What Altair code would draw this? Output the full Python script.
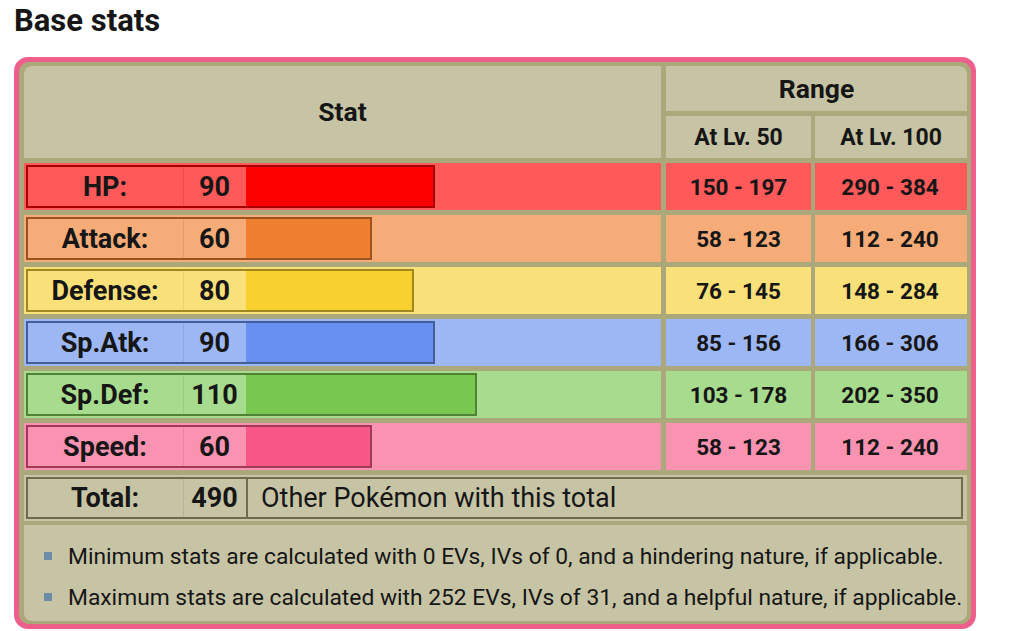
import altair as alt
import pandas as pd

# ---------------- data ----------------
title_text = "Base stats"
header_stat = "Stat"
header_range = "Range"
header_levels = ["At Lv. 50", "At Lv. 100"]
stat_names = ["HP:", "Attack:", "Defense:", "Sp.Atk:", "Sp.Def:", "Speed:"]
base_stats = [90, 60, 80, 90, 110, 60]
range_lv50 = ["150 - 197", "58 - 123", "76 - 145", "85 - 156", "103 - 178", "58 - 123"]
range_lv100 = ["290 - 384", "112 - 240", "148 - 284", "166 - 306", "202 - 350", "112 - 240"]
total_label = "Total:"
total_value = 490
total_link = "Other Pokémon with this total"
notes = [
    "Minimum stats are calculated with 0 EVs, IVs of 0, and a hindering nature, if applicable.",
    "Maximum stats are calculated with 252 EVs, IVs of 31, and a helpful nature, if applicable.",
]

# ---------------- styles ----------------
bar_colors = ["#FF0000", "#F08030", "#F8D030", "#6890F0", "#78C850", "#F85888"]
light_colors = ["#FF5959", "#F5AC78", "#FAE078", "#9DB7F5", "#A7DB8D", "#FA92B2"]
dark_colors = ["#A60000", "#9C531F", "#A1871F", "#445E9C", "#4E8234", "#A13959"]
PINK = "#EE5F8B"
OLIVE = "#ABA87C"
BEIGE = "#C6C4A5"
DARK_OLIVE = "#6E6B4E"
BULLET = "#6B8EA8"
TEXT = "#161616"
FONT = "Roboto"

# ---------------- layout ----------------
W, H = 1024, 631
ROW0, PITCH, ROWH = 163, 52, 47
ROW_X = (24, 661)
NAME_X = (26, 183)
VAL_X = (183, 246)
LV50_X = (666, 811)
LV100_X = (815, 967)

XS = alt.Scale(domain=[0, W], range=[0, W])
YS = alt.Scale(domain=[0, H], range=[0, H])
# base stat -> pixels: 2.1 px per point, starting at the value cell edge
BS = alt.Scale(domain=[0, 255], range=[246, 246 + 2.1 * 255])


def rects(rows, **kw):
    df = pd.DataFrame(rows, columns=["x", "x2", "y", "y2", "fill"])
    return alt.Chart(df).mark_rect(**kw).encode(
        x=alt.X("x:Q", scale=XS, axis=None),
        x2="x2:Q",
        y=alt.Y("y:Q", scale=YS, axis=None),
        y2="y2:Q",
        fill=alt.Fill("fill:N", scale=None),
    )


def texts(rows, size, weight="bold", align="center"):
    df = pd.DataFrame(rows, columns=["x", "y", "t"])
    return alt.Chart(df).mark_text(
        font=FONT, fontSize=size, fontWeight=weight, align=align,
        baseline="middle", color=TEXT,
    ).encode(
        x=alt.X("x:Q", scale=XS, axis=None),
        y=alt.Y("y:Q", scale=YS, axis=None),
        text="t:N",
    )


tops = [ROW0 + PITCH * i for i in range(len(stat_names))]

back_layers = [
    rects([(14, 976, 57, 629, PINK)], cornerRadius=14),
    rects([(19, 971, 62, 624, OLIVE)], cornerRadius=10),
    rects([(24, 661, 66, 158, BEIGE)], cornerRadiusTopLeft=8),
    rects([(666, 967, 66, 111, BEIGE)], cornerRadiusTopRight=8),
    rects([(LV50_X[0], LV50_X[1], 116, 158, BEIGE), (LV100_X[0], LV100_X[1], 116, 158, BEIGE)]),
    rects([(ROW_X[0], ROW_X[1], t, t + ROWH, c) for t, c in zip(tops, light_colors)]
          + [(LV50_X[0], LV50_X[1], t, t + ROWH, c) for t, c in zip(tops, light_colors)]
          + [(LV100_X[0], LV100_X[1], t, t + ROWH, c) for t, c in zip(tops, light_colors)]),
    # dark frame around name + value part
    rects([(NAME_X[0], VAL_X[1] + 4, t + 2, t + ROWH - 2, c) for t, c in zip(tops, dark_colors)]),
    # total row
    rects([(24, 967, 475, 521, BEIGE)]),
    rects([(26, 963, 477, 519, DARK_OLIVE)]),
    rects([(28, 961, 479, 517, BEIGE)]),
    rects([(246, 248, 477, 519, DARK_OLIVE)]),
    rects([(183, 184, 479, 517, "#B5B394")]),
    # footer
    rects([(24, 967, 525, 621, BEIGE)], cornerRadiusBottomLeft=8, cornerRadiusBottomRight=8),
]
back = alt.layer(*back_layers)

bar_df = pd.DataFrame({
    "zero": [0] * len(base_stats),
    "base": base_stats,
    "oy": [t + 2 for t in tops],
    "oy2": [t + ROWH - 2 for t in tops],
    "iy": [t + 4 for t in tops],
    "iy2": [t + ROWH - 4 for t in tops],
    "dark": dark_colors,
    "bar": bar_colors,
})
bar_dark = alt.Chart(bar_df).mark_rect().encode(
    x=alt.X("zero:Q", scale=BS, axis=None), x2="base:Q",
    y=alt.Y("oy:Q", scale=YS, axis=None), y2="oy2:Q",
    fill=alt.Fill("dark:N", scale=None),
)
bar_fill = alt.Chart(bar_df).mark_rect(x2Offset=-2).encode(
    x=alt.X("zero:Q", scale=BS, axis=None), x2="base:Q",
    y=alt.Y("iy:Q", scale=YS, axis=None), y2="iy2:Q",
    fill=alt.Fill("bar:N", scale=None),
)
bars = alt.layer(bar_dark, bar_fill)

front_layers = [
    rects([(NAME_X[0] + 2, VAL_X[1], t + 4, t + ROWH - 4, c) for t, c in zip(tops, light_colors)]),
    rects([(VAL_X[0], VAL_X[0] + 1, t + 4, t + ROWH - 4, c) for t, c in zip(tops, dark_colors)],
          opacity=0.15),
    rects([(44, 52, y - 4, y + 4, BULLET) for y in (556, 597)]),
    texts([(14, 22, title_text)], 31, align="left"),
    texts([(342.5, 113, header_stat)], 26.5),
    texts([(816.5, 89.5, header_range)], 26.5),
    texts([(738.5, 138, header_levels[0]), (891, 138, header_levels[1])], 23),
    texts([(105, t + 24.5, n) for t, n in zip(tops, stat_names)], 27),
    texts([(214.5, t + 24.5, str(v)) for t, v in zip(tops, base_stats)], 27),
    texts([(738.5, t + 24.5, r) for t, r in zip(tops, range_lv50)], 22.5),
    texts([(890, t + 24.5, r) for t, r in zip(tops, range_lv100)], 22.5),
    texts([(105, 498.5, total_label), (214.5, 498.5, str(total_value))], 27),
    texts([(261, 498.5, total_link)], 27, weight="normal", align="left"),
    texts([(68, 557, notes[0]), (68, 598, notes[1])], 22.8, weight="normal", align="left"),
]
front = alt.layer(*front_layers)

chart = alt.layer(back, bars, front).resolve_scale(x="independent").properties(
    width=W, height=H, padding=0, autosize="none", background="white"
).configure_view(stroke=None)

chart.save("out.html", embed_options={"renderer": "svg", "actions": False})
